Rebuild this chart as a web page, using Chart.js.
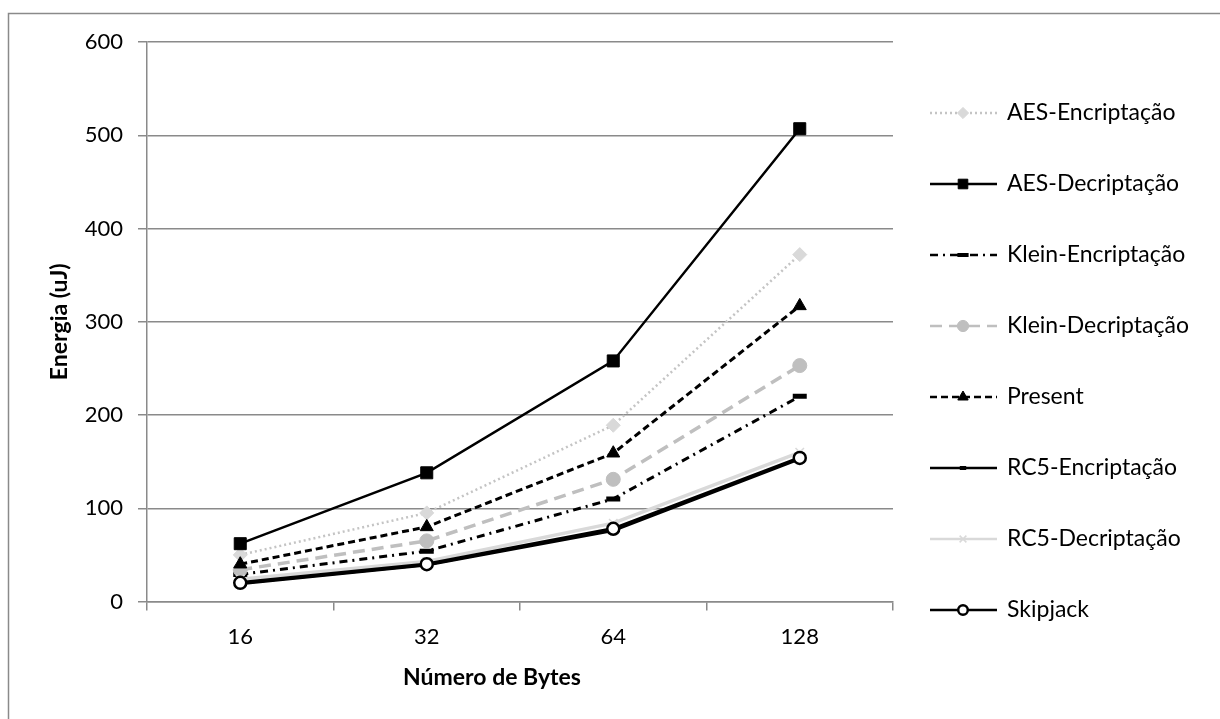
<!DOCTYPE html>
<html>
<head>
<meta charset="utf-8">
<script src="https://cdn.jsdelivr.net/npm/chart.js"></script>
<style>
  html, body { margin: 0; padding: 0; background: #fff; }
</style>
</head>
<body>
<canvas id="line-chart" width="1220" height="719"></canvas>
<script>
const bytesLabels = ["16", "32", "64", "128"];
const seriesNames = ["AES-Encriptação", "AES-Decriptação", "Klein-Encriptação", "Klein-Decriptação",
                     "Present", "RC5-Encriptação", "RC5-Decriptação", "Skipjack"];

const aesEnc   = [50, 95, 189, 372];
const aesDec   = [62, 138, 258, 507];
const kleinEnc = [29, 54, 110, 220];
const kleinDec = [34, 65, 131, 253];
const present  = [40, 80, 159, 317];
const rc5Enc   = [19, 39, 76, 153];
const rc5Dec   = [24, 43, 84, 160];
const skipjack = [20, 40, 78, 154];

const yTicks = [0, 100, 200, 300, 400, 500, 600];

const FONT = "Lato, 'Open Sans', sans-serif";
const GRID = "#8a8a8a";

// frame around the chart + x axis title + legend with line samples
const extras = {
  id: "extras",
  beforeDraw(chart) {
    const ctx = chart.ctx;
    ctx.save();
    ctx.fillStyle = "#fff";
    ctx.fillRect(0, 0, chart.width, chart.height);
    ctx.strokeStyle = GRID;
    ctx.lineWidth = 1.5;
    ctx.strokeRect(8.5, 13.5, 1300, 800);
    ctx.restore();
  },
  afterDraw(chart) {
    const ctx = chart.ctx;
    ctx.save();
    ctx.fillStyle = "#000";
    ctx.font = "bold 23px " + FONT;
    ctx.textAlign = "center";
    ctx.textBaseline = "middle";
    ctx.fillText("Número de Bytes", 492, 678);

    ctx.font = "23px " + FONT;
    ctx.textAlign = "left";
    chart.data.datasets.forEach((ds, i) => {
      const y = 113 + i * 71;
      ctx.save();
      ctx.strokeStyle = ds.borderColor;
      ctx.lineWidth = Math.min(ds.borderWidth, 2.5);
      ctx.setLineDash(ds.borderDash || []);
      ctx.beginPath();
      ctx.moveTo(930, y);
      ctx.lineTo(997, y);
      ctx.stroke();
      ctx.setLineDash([]);
      ctx.fillStyle = ds.pointBackgroundColor;
      ctx.strokeStyle = ds.pointBorderColor;
      ctx.lineWidth = Math.min(ds.pointBorderWidth, 4);
      Chart.helpers.drawPoint(ctx, {
        pointStyle: ds.pointStyle,
        radius: ds.pointRadius * 0.8,
        borderWidth: ds.pointBorderWidth,
        rotation: 0
      }, 963, y);
      ctx.restore();
      ctx.fillStyle = "#000";
      ctx.fillText(ds.label, 1007, y);
    });
    ctx.restore();
  }
};

const mk = (i, data, color, width, dash, style, radius, fill, pColor, pWidth) => ({
  label: seriesNames[i],
  data: data,
  borderColor: color,
  borderWidth: width,
  borderDash: dash,
  pointStyle: style,
  pointRadius: radius,
  pointBackgroundColor: fill,
  pointBorderColor: pColor,
  pointBorderWidth: pWidth,
  fill: false,
  tension: 0,
  order: 8 - i
});

new Chart(document.getElementById("line-chart"), {
  type: "line",
  data: {
    labels: bytesLabels,
    datasets: [
      mk(0, aesEnc,   "#c4c4c4", 2.5, [2, 3],        "rectRot",  7,   "#d9d9d9", "#d9d9d9", 1),
      mk(1, aesDec,   "#000",    2.5, [],            "rect",     8.5, "#000",    "#000",    1),
      mk(2, kleinEnc, "#000",    3,   [8, 5, 2, 5],  "line",     7,   "#000",    "#000",    5),
      mk(3, kleinDec, "#bfbfbf", 3.5, [12, 7],       "circle",   7,   "#bfbfbf", "#bfbfbf", 1),
      mk(4, present,  "#000",    3,   [7, 4],        "triangle", 7.5, "#000",    "#000",    1),
      mk(5, rc5Enc,   "#000",    3,   [],            "line",     4,   "#000",    "#000",    4),
      mk(6, rc5Dec,   "#d9d9d9", 3.5, [],            "crossRot", 6,   "#d9d9d9", "#d9d9d9", 1.5),
      mk(7, skipjack, "#000",    3.5, [],            "circle",   6,   "#fff",    "#000",    2.5)
    ]
  },
  options: {
    responsive: false,
    animation: false,
    layout: { padding: { top: 42, right: 327, left: 0, bottom: 0 } },
    plugins: {
      legend: { display: false },
      tooltip: { enabled: false }
    },
    scales: {
      x: {
        offset: true,
        grid: { drawOnChartArea: false, drawTicks: true, tickLength: 9, color: GRID, lineWidth: 1.5, offset: true },
        border: { display: true, color: GRID, width: 1.5 },
        ticks: { color: "#000", font: { family: FONT, size: 22 }, padding: 13, maxRotation: 0 },
        afterFit: (s) => { s.height = 117.5; }
      },
      y: {
        min: 0,
        max: 600,
        afterBuildTicks: (s) => { s.ticks = yTicks.map(v => ({ value: v })); },
        grid: { color: GRID, lineWidth: 1.5, tickLength: 9 },
        border: { display: true, color: GRID, width: 1.5 },
        ticks: { color: "#000", font: { family: FONT, size: 22 }, padding: 15 },
        title: { display: true, text: "Energia (uJ)", color: "#000",
                 font: { family: FONT, size: 23, weight: "bold" }, padding: { top: 46, bottom: 0 } },
        afterFit: (s) => { s.width = 147; }
      }
    }
  },
  plugins: [extras]
});
</script>
</body>
</html>
